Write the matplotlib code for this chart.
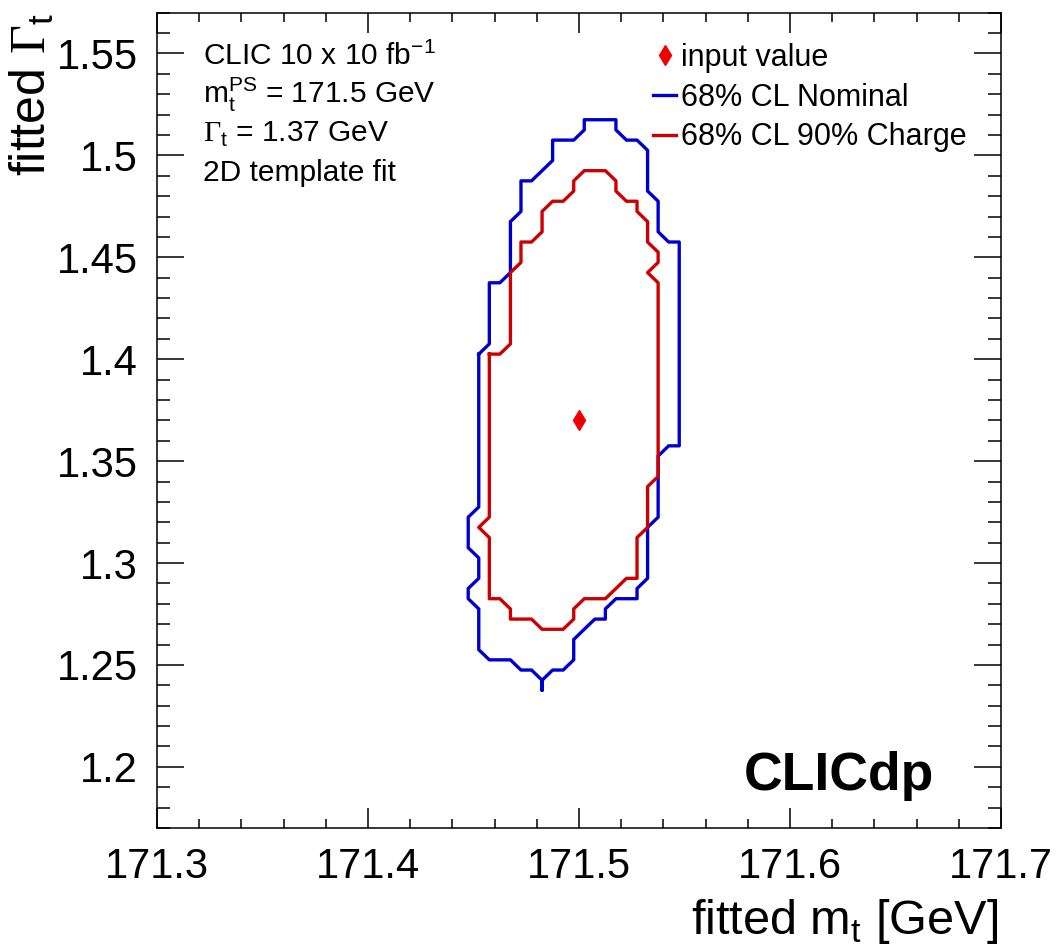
#!/usr/bin/env python3

import matplotlib
matplotlib.use("Agg")
import matplotlib.pyplot as plt
from matplotlib.ticker import MultipleLocator

plt.rcParams["font.family"] = ["Liberation Sans", "DejaVu Sans"]
plt.rcParams["mathtext.fontset"] = "custom"
plt.rcParams["mathtext.rm"] = "Liberation Serif"
plt.rcParams["mathtext.sf"] = "Liberation Sans"

# 68% CL contour, nominal (traced vertices)
nominal_x = [171.4525, 171.4575, 171.4575, 171.4625, 171.4675, 171.4675, 171.4725, 171.4725,
             171.4775, 171.4875, 171.4875, 171.4975, 171.5025, 171.5025, 171.5175, 171.5175,
             171.5225, 171.5275, 171.5325, 171.5325, 171.5375, 171.5375, 171.5425, 171.5475,
             171.5475, 171.5425, 171.5375, 171.5375, 171.5325, 171.5325, 171.5275, 171.5275,
             171.5175, 171.5125, 171.5125, 171.5075, 171.4975, 171.4975, 171.4925, 171.4875,
             171.4825, 171.4825, 171.4825, 171.4775, 171.4725, 171.4675, 171.4575, 171.4525,
             171.4525, 171.4475, 171.4475, 171.4525, 171.4525, 171.4475, 171.4475, 171.4525,
             171.4525]
nominal_y = [1.4025, 1.4075, 1.4375, 1.4375, 1.4425, 1.4675, 1.4725, 1.4875,
             1.4875, 1.4975, 1.5075, 1.5075, 1.5125, 1.5175, 1.5175, 1.5125,
             1.5075, 1.5075, 1.5025, 1.4825, 1.4775, 1.4625, 1.4575, 1.4575,
             1.3575, 1.3575, 1.3525, 1.3225, 1.3175, 1.2925, 1.2875, 1.2825,
             1.2825, 1.2775, 1.2725, 1.2725, 1.2625, 1.2525, 1.2475, 1.2475,
             1.2425, 1.2375, 1.2425, 1.2475, 1.2475, 1.2525, 1.2525, 1.2575,
             1.2775, 1.2825, 1.2875, 1.2925, 1.3025, 1.3075, 1.3225, 1.3275,
             1.4025]

# 68% CL contour, 90% charge
charge_x = [171.4575, 171.4625, 171.4675, 171.4675, 171.4725, 171.4725, 171.4775, 171.4825,
            171.4825, 171.4875, 171.4925, 171.4975, 171.4975, 171.5025, 171.5125, 171.5175,
            171.5175, 171.5225, 171.5275, 171.5275, 171.5325, 171.5325, 171.5375, 171.5375,
            171.5325, 171.5375, 171.5375, 171.5325, 171.5325, 171.5275, 171.5275, 171.5225,
            171.5125, 171.5025, 171.4975, 171.4975, 171.4925, 171.4825, 171.4775, 171.4675,
            171.4675, 171.4625, 171.4575, 171.4575, 171.4525, 171.4575, 171.4575]
charge_y = [1.4025, 1.4025, 1.4075, 1.4425, 1.4475, 1.4575, 1.4575, 1.4625,
            1.4725, 1.4775, 1.4775, 1.4825, 1.4875, 1.4925, 1.4925, 1.4875,
            1.4825, 1.4775, 1.4775, 1.4725, 1.4675, 1.4575, 1.4525, 1.4475,
            1.4425, 1.4375, 1.3425, 1.3375, 1.3175, 1.3125, 1.2925, 1.2925,
            1.2825, 1.2825, 1.2775, 1.2725, 1.2675, 1.2675, 1.2725, 1.2725,
            1.2775, 1.2825, 1.2825, 1.3125, 1.3175, 1.3225, 1.4025]

input_mt = [171.5]
input_gt = [1.37]

info_lines = [
    r"CLIC 10 x 10 fb$^{\mathsf{-1}}$",
    r"m$_{\mathsf{t}}^{\mathsf{PS}}$ = 171.5 GeV",
    r"$\Gamma_{\mathsf{t}}$ = 1.37 GeV",
    "2D template fit",
]

BLUE = "#0000cc"
RED = "#cc0000"

fig = plt.figure(figsize=(10.62, 9.49), dpi=100)
ax = fig.add_axes([0.1478, 0.1275, 0.7948, 0.8591])

h_in, = ax.plot(input_mt, input_gt, "d", color="#ee0000", ms=10, ls="none",
                label="input value")
h_nom, = ax.plot(nominal_x, nominal_y, color=BLUE, lw=2.4, label="68% CL Nominal")
h_chg, = ax.plot(charge_x, charge_y, color=RED, lw=2.4, label="68% CL 90% Charge")

ax.set_xlim(171.3, 171.7)
ax.set_ylim(1.17, 1.57)
ax.xaxis.set_major_locator(MultipleLocator(0.1))
ax.xaxis.set_minor_locator(MultipleLocator(0.02))
ax.yaxis.set_major_locator(MultipleLocator(0.05))
ax.yaxis.set_minor_locator(MultipleLocator(0.01))
ax.xaxis.set_major_formatter(plt.FuncFormatter(lambda v, p: f"{v:.1f}"))
ax.yaxis.set_major_formatter(plt.FuncFormatter(lambda v, p: f"{v:.2f}".rstrip("0")))

ax.tick_params(axis="both", which="both", direction="in", top=True, right=True,
               width=1.1, labelsize=30)
ax.tick_params(axis="x", which="major", length=14.5, pad=14)
ax.tick_params(axis="x", which="minor", length=6.5)
ax.tick_params(axis="y", which="major", length=19.5, pad=14)
ax.tick_params(axis="y", which="minor", length=9.5)
for s in ax.spines.values():
    s.set_linewidth(1.1)

ax.set_xlabel(r"fitted m$_{\mathsf{t}}$ [GeV]", fontsize=35, loc="right")
ax.xaxis.set_label_coords(0.996, -0.085)
ax.set_ylabel(r"fitted $\Gamma_{\mathsf{t}}$", fontsize=36, loc="top")
ax.yaxis.set_label_coords(-0.12, 1.0)

for k, line in enumerate(info_lines):
    ax.text(0.0545, 0.936 - 0.0475 * k, line, fontsize=21.5, transform=ax.transAxes,
            va="baseline", ha="left")

ax.legend(handles=[h_in, h_nom, h_chg], loc="upper left", bbox_to_anchor=(0.588, 0.963),
          frameon=False, fontsize=22, handlelength=0.75, handletextpad=0.15,
          labelspacing=0.32, borderpad=0, borderaxespad=0)

ax.text(0.921, 0.047, "CLICdp", fontsize=38.5, fontweight="bold", ha="right",
        va="baseline", transform=ax.transAxes)

fig.savefig("out.png", dpi=100)
